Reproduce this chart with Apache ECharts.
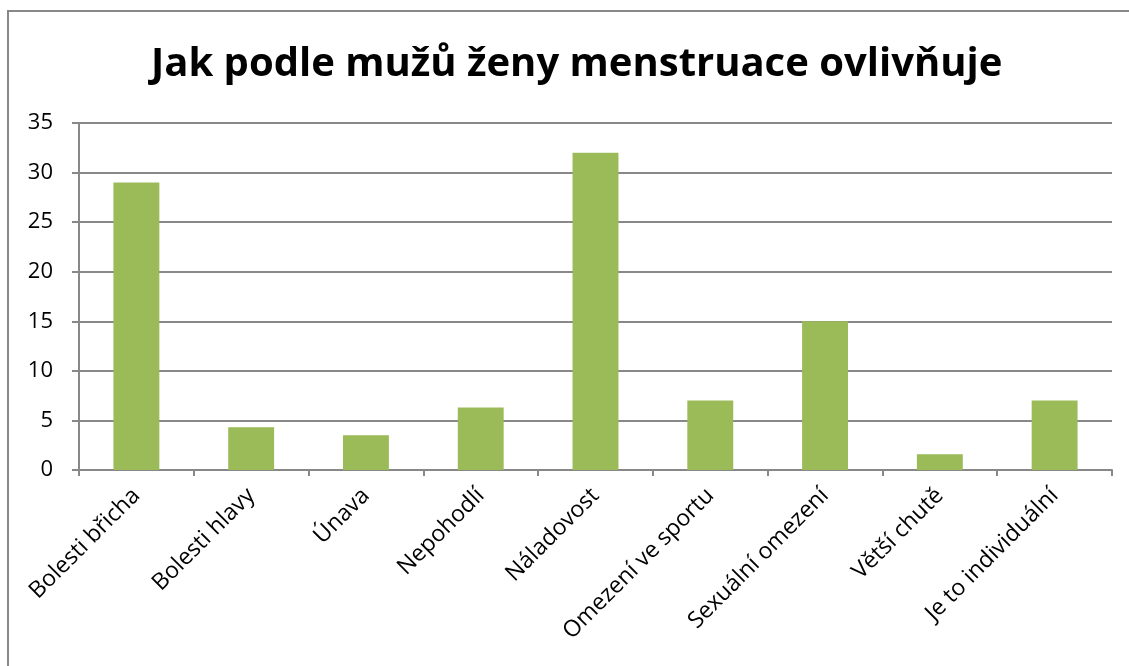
<!DOCTYPE html>
<html lang="cs">
<head>
    <meta charset="UTF-8">
    <title>Jak podle mužů ženy menstruace ovlivňuje</title>
    <style>
        html, body { margin: 0; padding: 0; background: #fff; }
    </style>
</head>
<body>
    <div id="chart" style="width:1129px; height:666px"></div>

    <script src="https://cdn.jsdelivr.net/npm/echarts@6/dist/echarts.min.js"></script>
    <script>
        // kategorie a hodnoty
        const categories = ['Bolesti břicha', 'Bolesti hlavy', 'Únava', 'Nepohodlí', 'Náladovost',
            'Omezení ve sportu', 'Sexuální omezení', 'Větší chutě', 'Je to individuální'];
        const values = [29, 4.3, 3.5, 6.3, 32, 7, 15, 1.6, 7];
        const yTicks = { min: 0, max: 35, interval: 5 };

        const chart = echarts.init(document.getElementById('chart'));
        const grey = '#888888';

        chart.setOption({
            animation: false,
            textStyle: { fontFamily: 'Open Sans' },
            title: {
                text: 'Jak podle mužů ženy menstruace ovlivňuje',
                left: 146,
                top: 40,
                textStyle: { fontSize: 40, fontWeight: 'bold', color: '#000', fontFamily: 'Open Sans' }
            },
            // rámeček kolem celého grafu
            graphic: [{
                type: 'rect',
                shape: { x: 8, y: 11, width: 1140, height: 700 },
                style: { fill: 'none', stroke: grey, lineWidth: 2 },
                silent: true
            }],
            grid: { left: 79, right: 17, top: 123, bottom: 196, containLabel: false },
            xAxis: {
                type: 'category',
                data: categories,
                axisLine: { lineStyle: { color: grey, width: 2 } },
                axisTick: { show: true, length: 6, lineStyle: { color: grey, width: 2 } },
                axisLabel: { rotate: 45, fontSize: 23, color: '#000', margin: 22, interval: 0 }
            },
            yAxis: {
                type: 'value',
                min: yTicks.min,
                max: yTicks.max,
                interval: yTicks.interval,
                axisLine: { show: true, lineStyle: { color: grey, width: 2 } },
                axisTick: { show: true, length: 7, lineStyle: { color: grey, width: 2 } },
                splitLine: { lineStyle: { color: grey, width: 2 } },
                axisLabel: { fontSize: 22, color: '#000', margin: 26 }
            },
            series: [{
                type: 'bar',
                data: values,
                barWidth: '40%',
                itemStyle: { color: '#9bbb59' }
            }]
        });
    </script>
</body>
</html>
